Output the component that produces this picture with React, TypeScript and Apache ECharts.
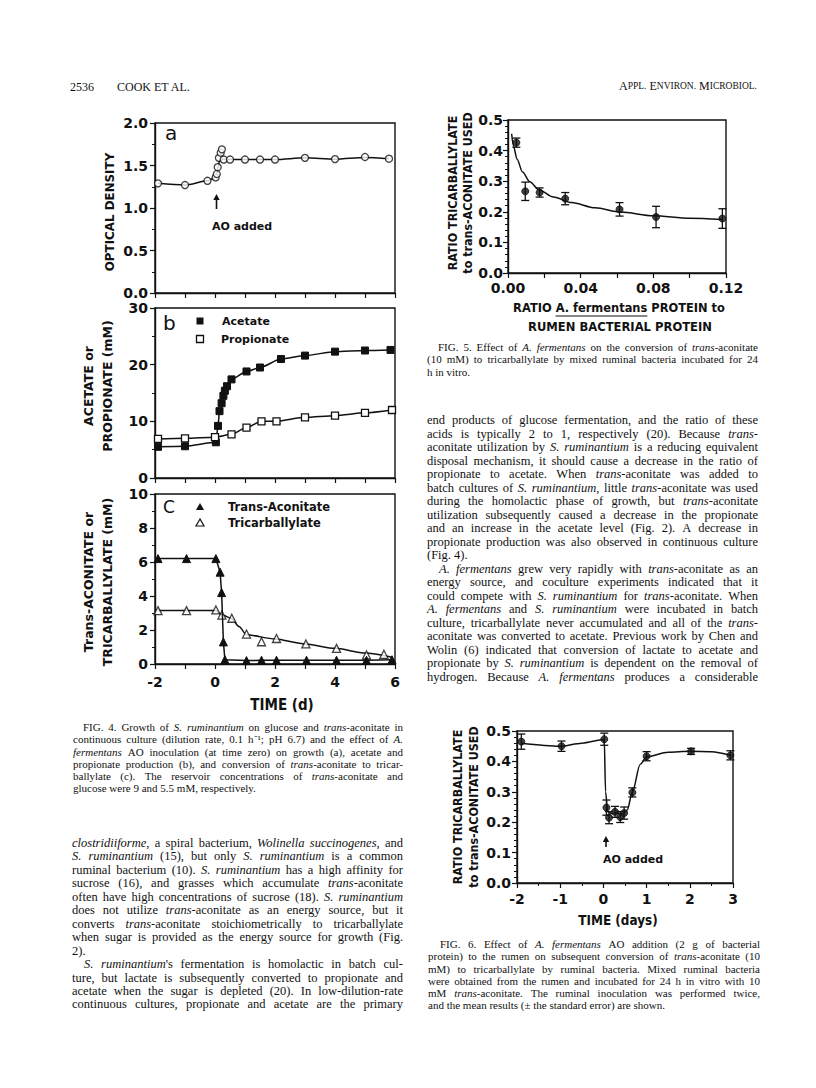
import React, { useEffect, useRef } from 'react';
import * as echarts from 'echarts';

// ---------- Fig. 4a: optical density ----------
const odX = [-1.9, -1.0, -0.25, 0.02, 0.06, 0.09, 0.13, 0.19, 0.23, 0.29, 0.5, 1.0, 1.5, 2.0, 3.0, 4.0, 5.0, 5.8];
const odY = [1.29, 1.27, 1.32, 1.36, 1.4, 1.48, 1.59, 1.65, 1.69, 1.57, 1.57, 1.57, 1.57, 1.57, 1.59, 1.575, 1.6, 1.58];
const odFitX = [-1.9, -1.0, -0.25, 0.0, 0.06, 0.1, 0.15, 0.22, 0.3, 0.5, 1, 1.5, 2, 3, 4, 5, 5.8];
const odFitY = [1.29, 1.27, 1.32, 1.36, 1.4, 1.47, 1.56, 1.575, 1.57, 1.57, 1.57, 1.57, 1.57, 1.59, 1.575, 1.595, 1.58];

// ---------- Fig. 4b: acetate / propionate ----------
const aceX = [-1.9, -1.0, 0.03, 0.1, 0.15, 0.22, 0.28, 0.33, 0.4, 0.55, 1.05, 1.5, 2.2, 3.0, 4.0, 5.0, 5.85];
const aceY = [5.5, 5.6, 6.3, 9.2, 11.8, 13.2, 14.5, 15.4, 16.2, 17.4, 18.8, 19.5, 21.0, 21.6, 22.3, 22.5, 22.6];
const proX = [-1.9, -1.0, 0.0, 0.55, 1.05, 1.55, 2.05, 3.0, 4.0, 5.0, 5.9];
const proY = [6.9, 7.0, 7.2, 7.7, 8.9, 10.0, 10.0, 10.7, 11.0, 11.5, 12.0];

// ---------- Fig. 4c: trans-aconitate / tricarballylate ----------
const taX = [-1.9, -0.95, 0.03, 0.17, 0.22, 0.28, 0.33, 1.05, 1.55, 2.05, 3.05, 4.05, 5.05, 5.9];
const taY = [6.2, 6.2, 6.2, 5.4, 4.2, 1.3, 0.25, 0.2, 0.22, 0.22, 0.22, 0.22, 0.22, 0.25];
const tcX = [-1.9, -0.95, 0.03, 0.23, 0.56, 1.05, 1.55, 2.05, 3.03, 4.05, 5.05, 5.63];
const tcY = [3.14, 3.14, 3.18, 2.88, 2.69, 1.76, 1.31, 1.5, 1.18, 0.92, 0.53, 0.57];
const tcFitX = [-1.9, 0.03, 0.2, 0.55, 0.8, 1.05, 2.0, 3.0, 4.0, 5.0, 5.9];
const tcFitY = [3.15, 3.15, 2.92, 2.68, 2.2, 1.72, 1.47, 1.18, 0.92, 0.64, 0.4];

// ---------- Fig. 5 ----------
const f5X = [0.0046, 0.0095, 0.0174, 0.0315, 0.0614, 0.0815, 0.118];
const f5Y = [0.426, 0.267, 0.263, 0.243, 0.208, 0.183, 0.178];
const f5Err = [0.015, 0.03, 0.015, 0.02, 0.022, 0.035, 0.032];
const f5FitX = [0.002, 0.003, 0.005, 0.008, 0.012, 0.017, 0.025, 0.035, 0.048, 0.062, 0.08, 0.1, 0.118];
const f5FitY = [0.455, 0.415, 0.372, 0.33, 0.298, 0.272, 0.248, 0.23, 0.213, 0.199, 0.187, 0.179, 0.175];

// ---------- Fig. 6 ----------
const f6X = [-1.9, -0.97, 0.02, 0.07, 0.13, 0.27, 0.39, 0.48, 0.67, 1.0, 2.03, 2.94];
const f6Y = [0.465, 0.45, 0.473, 0.248, 0.215, 0.234, 0.217, 0.23, 0.298, 0.417, 0.433, 0.42];
const f6Err = [0.025, 0.017, 0.02, 0.025, 0.02, 0.018, 0.018, 0.02, 0.015, 0.015, 0.01, 0.015];
const f6FitX = [-1.9, -1.0, -0.5, 0.02, 0.05, 0.1, 0.2, 0.3, 0.45, 0.55, 0.67, 0.85, 1.0, 1.5, 2.0, 2.5, 2.94];
const f6FitY = [0.46, 0.45, 0.46, 0.472, 0.3, 0.235, 0.228, 0.23, 0.228, 0.24, 0.298, 0.39, 0.415, 0.43, 0.433, 0.432, 0.42];

// ---------- Page text ('>' = indented first line, '|' = last line, *...* = italic) ----------
const fig4Caption = [
  '>FIG. 4. Growth of *S. ruminantium* on glucose and *trans*-aconitate in',
  'continuous culture (dilution rate, 0.1 h⁻¹; pH 6.7) and the effect of *A.*',
  '*fermentans* AO inoculation (at time zero) on growth (a), acetate and',
  'propionate production (b), and conversion of *trans*-aconitate to tricar-',
  'ballylate (c). The reservoir concentrations of *trans*-aconitate and',
  'glucose were 9 and 5.5 mM, respectively.|',
];
const leftBody = [
  '*clostridiiforme*, a spiral bacterium, *Wolinella succinogenes*, and',
  '*S. ruminantium* (15), but only *S. ruminantium* is a common',
  'ruminal bacterium (10). *S. ruminantium* has a high affinity for',
  'sucrose (16), and grasses which accumulate *trans*-aconitate',
  'often have high concentrations of sucrose (18). *S. ruminantium*',
  'does not utilize *trans*-aconitate as an energy source, but it',
  'converts *trans*-aconitate stoichiometrically to tricarballylate',
  'when sugar is provided as the energy source for growth (Fig.',
  '2).|',
  ">*S. ruminantium*'s fermentation is homolactic in batch cul-",
  'ture, but lactate is subsequently converted to propionate and',
  'acetate when the sugar is depleted (20). In low-dilution-rate',
  'continuous cultures, propionate and acetate are the primary',
];
const fig5Caption = [
  '>FIG. 5. Effect of *A. fermentans* on the conversion of *trans*-aconitate',
  '(10 mM) to tricarballylate by mixed ruminal bacteria incubated for 24',
  'h in vitro.|',
];
const rightBody = [
  'end products of glucose fermentation, and the ratio of these',
  'acids is typically 2 to 1, respectively (20). Because *trans*-',
  'aconitate utilization by *S. ruminantium* is a reducing equivalent',
  'disposal mechanism, it should cause a decrease in the ratio of',
  'propionate to acetate. When *trans*-aconitate was added to',
  'batch cultures of *S. ruminantium*, little *trans*-aconitate was used',
  'during the homolactic phase of growth, but *trans*-aconitate',
  'utilization subsequently caused a decrease in the propionate',
  'and an increase in the acetate level (Fig. 2). A decrease in',
  'propionate production was also observed in continuous culture',
  '(Fig. 4).|',
  '>*A. fermentans* grew very rapidly with *trans*-aconitate as an',
  'energy source, and coculture experiments indicated that it',
  'could compete with *S. ruminantium* for *trans*-aconitate. When',
  '*A. fermentans* and *S. ruminantium* were incubated in batch',
  'culture, tricarballylate never accumulated and all of the *trans*-',
  'aconitate was converted to acetate. Previous work by Chen and',
  'Wolin (6) indicated that conversion of lactate to acetate and',
  'propionate by *S. ruminantium* is dependent on the removal of',
  'hydrogen. Because *A. fermentans* produces a considerable',
];
const fig6Caption = [
  '>FIG. 6. Effect of *A. fermentans* AO addition (2 g of bacterial',
  'protein) to the rumen on subsequent conversion of *trans*-aconitate (10',
  'mM) to tricarballylate by ruminal bacteria. Mixed ruminal bacteria',
  'were obtained from the rumen and incubated for 24 h in vitro with 10',
  'mM *trans*-aconitate. The ruminal inoculation was performed twice,',
  'and the mean results (± the standard error) are shown.|',
];

const INK = '#111';
const SANS = '"DejaVu Sans", Verdana, sans-serif';
const COND = '"DejaVu Sans", Verdana, sans-serif';
const SERIF = '"Liberation Serif", "Times New Roman", serif';

let mctx: CanvasRenderingContext2D | null = null;
function measure(text: string, font: string) {
  if (!mctx) mctx = document.createElement('canvas').getContext('2d');
  mctx!.font = font;
  return mctx!.measureText(text).width;
}
const serifFont = (size: number, it: boolean) => `${it ? 'italic ' : ''}${size}px ${SERIF}`;

type Seg = { t: string; it: boolean };
function parseWords(s: string): Seg[][] {
  const words: Seg[][] = [];
  let cur: Seg[] = [];
  let buf = '';
  let it = false;
  for (const ch of s) {
    if (ch === '*') {
      if (buf) cur.push({ t: buf, it });
      buf = '';
      it = !it;
    } else if (ch === ' ') {
      if (buf) cur.push({ t: buf, it });
      buf = '';
      if (cur.length) words.push(cur);
      cur = [];
    } else buf += ch;
  }
  if (buf) cur.push({ t: buf, it });
  if (cur.length) words.push(cur);
  return words;
}

function textBlock(lines: string[], x0: number, width: number, y0: number, lh: number, size: number, indent: number) {
  const els: any[] = [];
  lines.forEach((raw, li) => {
    let s = raw;
    let ind = 0;
    let just = true;
    if (s.startsWith('>')) { ind = indent; s = s.slice(1); }
    if (s.endsWith('|')) { just = false; s = s.slice(0, -1); }
    const words = parseWords(s);
    const widths = words.map((w) => w.reduce((a, g) => a + measure(g.t, serifFont(size, g.it)), 0));
    const total = widths.reduce((a, b) => a + b, 0);
    const avail = width - ind;
    const space = measure(' ', serifFont(size, false));
    const gap = just && words.length > 1 ? (avail - total) / (words.length - 1) : space;
    let x = x0 + ind;
    const y = y0 + li * lh;
    words.forEach((w, wi) => {
      let cx = x;
      w.forEach((g) => {
        els.push({
          type: 'text', x: cx, y, silent: true,
          style: { text: g.t, fontSize: size, fontFamily: SERIF, fontStyle: g.it ? 'italic' : 'normal', fill: INK, align: 'left', verticalAlign: 'middle' },
        });
        cx += measure(g.t, serifFont(size, g.it));
      });
      x += widths[wi] + gap;
    });
  });
  return els;
}

const txt = (text: string, x: number, y: number, o: any = {}) => ({
  type: 'text', x, y, rotation: o.rotation || 0, scaleX: o.sx || 1, scaleY: 1, silent: true,
  style: {
    text, fill: INK, fontSize: o.size || 12, fontFamily: o.family || COND, fontWeight: o.weight || 'bold',
    fontStyle: o.style || 'normal', align: o.align || 'left', verticalAlign: 'middle',
  },
});

const arrowUp = (x: number, tip: number, bottom: number) => [
  { type: 'line', silent: true, shape: { x1: x, y1: tip + 4, x2: x, y2: bottom }, style: { stroke: INK, lineWidth: 1.6 } },
  { type: 'polygon', silent: true, shape: { points: [[x, tip], [x - 3.2, tip + 6], [x + 3.2, tip + 6]] }, style: { fill: INK } },
];

const pairs = (xs: number[], ys: number[]) => xs.map((x, i) => [x, ys[i]]);

function xAxisCfg(gridIndex: number, min: number, max: number, interval: number, showLabel: boolean, formatter: any, minor = 0, margin = 8) {
  return {
    type: 'value', gridIndex, min, max, interval,
    axisLine: { show: true, onZero: false, lineStyle: { color: INK, width: 1.4 } },
    axisTick: { show: true, length: 5, lineStyle: { color: INK, width: 1.2 } },
    minorTick: { show: minor > 0, splitNumber: minor || 2, length: 3, lineStyle: { color: INK, width: 1 } },
    splitLine: { show: false },
    minorSplitLine: { show: false },
    axisLabel: { show: showLabel, color: INK, fontFamily: SANS, fontSize: 14, fontWeight: 'bold', margin, formatter },
  };
}
function yAxisCfg(gridIndex: number, min: number, max: number, interval: number, formatter: any, minor: number, margin = 7) {
  return {
    type: 'value', gridIndex, min, max, interval,
    axisLine: { show: true, onZero: false, lineStyle: { color: INK, width: 1.4 } },
    axisTick: { show: true, length: 5, lineStyle: { color: INK, width: 1.2 } },
    minorTick: { show: true, splitNumber: minor, length: 3, lineStyle: { color: INK, width: 1 } },
    splitLine: { show: false },
    minorSplitLine: { show: false },
    axisLabel: { color: INK, fontFamily: SANS, fontSize: 14, fontWeight: 'bold', margin, formatter },
  };
}

const errRender = (params: any, api: any) => {
  const x = api.value(0);
  const a = api.coord([x, api.value(1)]);
  const b = api.coord([x, api.value(2)]);
  const w = 4;
  const st = { stroke: INK, lineWidth: 1.3 };
  return {
    type: 'group',
    children: [
      { type: 'line', shape: { x1: a[0], y1: a[1], x2: b[0], y2: b[1] }, style: st },
      { type: 'line', shape: { x1: a[0] - w, y1: a[1], x2: a[0] + w, y2: a[1] }, style: st },
      { type: 'line', shape: { x1: b[0] - w, y1: b[1], x2: b[0] + w, y2: b[1] }, style: st },
    ],
  };
};

function buildOption() {
  const gridBase = { show: true, borderColor: INK, borderWidth: 1.4, backgroundColor: 'transparent', containLabel: false, outerBoundsMode: 'none' };
  const grids = [
    { ...gridBase, left: 155, top: 123, width: 240, height: 170 },
    { ...gridBase, left: 155, top: 308, width: 240, height: 170 },
    { ...gridBase, left: 155, top: 494, width: 240, height: 170 },
    { ...gridBase, left: 508, top: 120, width: 218, height: 153 },
    { ...gridBase, left: 517, top: 731, width: 216, height: 152 },
  ];
  const evenFmt = (v: number) => (Math.round(v) % 2 === 0 ? String(Math.round(v)) : '');
  const f5Fmt = (v: number) => {
    const k = Math.round(v / 0.02);
    return k % 2 === 0 ? (k * 0.02).toFixed(2) : '';
  };
  const fix1 = (v: number) => v.toFixed(1);
  const xAxes = [
    xAxisCfg(0, -2, 6, 1, false, null),
    xAxisCfg(1, -2, 6, 1, false, null),
    xAxisCfg(2, -2, 6, 1, true, evenFmt, 0, 11),
    xAxisCfg(3, 0, 0.12, 0.02, true, f5Fmt, 0, 8),
    xAxisCfg(4, -2, 3, 1, true, (v: number) => String(Math.round(v)), 2, 9),
  ];
  const yAxes = [
    yAxisCfg(0, 0, 2, 0.5, fix1, 2),
    yAxisCfg(1, 0, 30, 10, (v: number) => String(v), 2),
    yAxisCfg(2, 0, 10, 2, (v: number) => String(v), 2),
    yAxisCfg(3, 0, 0.5, 0.1, fix1, 5, 5),
    yAxisCfg(4, 0, 0.5, 0.1, fix1, 5, 6),
  ];
  const lineStyle = { color: INK, width: 1.5 };
  const openItem = { color: '#fff', borderColor: INK, borderWidth: 1.3 };
  const fillItem = { color: INK, borderColor: INK, borderWidth: 1 };
  const series: any[] = [
    // 4a
    { type: 'line', xAxisIndex: 0, yAxisIndex: 0, data: pairs(odFitX, odFitY), showSymbol: false, symbol: 'none', smooth: 0.3, smoothMonotone: 'x', lineStyle, z: 2 },
    { type: 'scatter', xAxisIndex: 0, yAxisIndex: 0, data: pairs(odX, odY), symbol: 'circle', symbolSize: 7, itemStyle: openItem, z: 3 },
    // 4b
    { type: 'line', xAxisIndex: 1, yAxisIndex: 1, data: pairs(aceX, aceY), symbol: 'rect', symbolSize: 7, smooth: 0.25, smoothMonotone: 'x', itemStyle: fillItem, lineStyle, z: 3 },
    { type: 'line', xAxisIndex: 1, yAxisIndex: 1, data: pairs(proX, proY), symbol: 'rect', symbolSize: 7, smooth: 0.25, smoothMonotone: 'x', itemStyle: openItem, lineStyle, z: 3 },
    // 4c
    { type: 'line', xAxisIndex: 2, yAxisIndex: 2, data: pairs(tcFitX, tcFitY), symbol: 'none', showSymbol: false, smooth: 0.25, smoothMonotone: 'x', lineStyle, z: 2 },
    { type: 'scatter', xAxisIndex: 2, yAxisIndex: 2, data: pairs(tcX, tcY), symbol: 'triangle', symbolSize: 8, itemStyle: openItem, z: 3 },
    { type: 'line', xAxisIndex: 2, yAxisIndex: 2, data: pairs(taX, taY), symbol: 'triangle', symbolSize: 8, itemStyle: fillItem, lineStyle, z: 4 },
    // Fig 5
    { type: 'line', xAxisIndex: 3, yAxisIndex: 3, data: pairs(f5FitX, f5FitY), symbol: 'none', showSymbol: false, smooth: 0.3, smoothMonotone: 'x', lineStyle, z: 2 },
    { type: 'custom', xAxisIndex: 3, yAxisIndex: 3, data: f5X.map((x, i) => [x, f5Y[i] - f5Err[i], f5Y[i] + f5Err[i]]), renderItem: errRender, encode: { x: 0, y: [1, 2] }, z: 3 },
    { type: 'scatter', xAxisIndex: 3, yAxisIndex: 3, data: pairs(f5X, f5Y), symbol: 'circle', symbolSize: 7, itemStyle: fillItem, z: 4 },
    // Fig 6
    { type: 'line', xAxisIndex: 4, yAxisIndex: 4, data: pairs(f6FitX, f6FitY), symbol: 'none', showSymbol: false, smooth: 0.3, smoothMonotone: 'x', lineStyle, z: 2 },
    { type: 'custom', xAxisIndex: 4, yAxisIndex: 4, data: f6X.map((x, i) => [x, f6Y[i] - f6Err[i], f6Y[i] + f6Err[i]]), renderItem: errRender, encode: { x: 0, y: [1, 2] }, z: 3 },
    { type: 'scatter', xAxisIndex: 4, yAxisIndex: 4, data: pairs(f6X, f6Y), symbol: 'circle', symbolSize: 7, itemStyle: fillItem, z: 4 },
  ];

  // Fig 5 x-title with underlined "A. fermentans"
  const tSx = 0.88;
  const titleFont = `bold 13px ${COND}`;
  const t5a = 'RATIO A. fermentans PROTEIN to';
  const fullW = measure(t5a, titleFont);
  const preW = measure('RATIO ', titleFont);
  const partW = measure('A. fermentans', titleFont);
  const ux0 = 619 - (fullW / 2 - preW) * tSx;

  const els: any[] = [
    // header
    txt('2536', 70, 87, { family: SERIF, weight: 'normal', size: 12 }),
    txt('COOK ET AL.', 117, 87, { family: SERIF, weight: 'normal', size: 12 }),
    {
      type: 'text', x: 757, y: 86, silent: true,
      style: {
        text: '{b|A}{s|PPL.} {b|E}{s|NVIRON.} {b|M}{s|ICROBIOL.}', align: 'right', verticalAlign: 'middle',
        fontSize: 12, fontFamily: SERIF, fill: INK,
        rich: { b: { fontSize: 12, fontFamily: SERIF, fill: INK }, s: { fontSize: 9.5, fontFamily: SERIF, fill: INK } },
      },
    },
    // Fig 4a
    txt('a', 165, 133, { family: SANS, weight: 'normal', size: 20 }),
    ...arrowUp(216.5, 194, 209),
    txt('AO added', 212, 226, { size: 11 }),
    txt('OPTICAL DENSITY', 110, 212, { size: 12.5, rotation: Math.PI / 2, align: 'center', sx: 0.95 }),
    // Fig 4b
    txt('b', 163, 323, { family: SANS, weight: 'normal', size: 20 }),
    { type: 'rect', silent: true, shape: { x: 196.5, y: 317.5, width: 7, height: 7 }, style: { fill: INK } },
    { type: 'rect', silent: true, shape: { x: 196.5, y: 335.5, width: 7, height: 7 }, style: { fill: '#fff', stroke: INK, lineWidth: 1.3 } },
    txt('Acetate', 222, 321, { size: 11 }),
    txt('Propionate', 221, 339, { size: 11 }),
    txt('ACETATE or', 88, 386, { size: 12.5, rotation: Math.PI / 2, align: 'center' }),
    txt('PROPIONATE (mM)', 107, 386, { size: 12.5, rotation: Math.PI / 2, align: 'center' }),
    // Fig 4c
    txt('C', 163, 507, { family: SANS, weight: 'normal', size: 17 }),
    { type: 'polygon', silent: true, shape: { points: [[200, 503], [196, 510], [204, 510]] }, style: { fill: INK } },
    { type: 'polygon', silent: true, shape: { points: [[200, 519], [196, 526], [204, 526]] }, style: { fill: '#fff', stroke: INK, lineWidth: 1.2 } },
    txt('Trans-Aconitate', 228, 507, { size: 11.5 }),
    txt('Tricarballylate', 228, 523, { size: 11.5 }),
    txt('Trans-ACONITATE or', 88, 582, { size: 12.5, rotation: Math.PI / 2, align: 'center' }),
    txt('TRICARBALLYLATE (mM)', 107, 582, { size: 12.5, rotation: Math.PI / 2, align: 'center' }),
    txt('TIME (d)', 282, 705, { size: 15, align: 'center', sx: 0.9 }),
    // Fig 5
    txt('RATIO TRICARBALLYLATE', 453, 193, { size: 12.5, rotation: Math.PI / 2, align: 'center', sx: 0.89 }),
    txt('to trans-ACONITATE USED', 468, 193, { size: 12.5, rotation: Math.PI / 2, align: 'center', sx: 0.89 }),
    txt(t5a, 619, 308, { size: 13, align: 'center', sx: tSx }),
    { type: 'line', silent: true, shape: { x1: ux0, y1: 316, x2: ux0 + partW * tSx, y2: 316 }, style: { stroke: INK, lineWidth: 1.2 } },
    txt('RUMEN BACTERIAL PROTEIN', 620, 327, { size: 13, align: 'center', sx: 0.89 }),
    // Fig 6
    txt('RATIO TRICARBALLYLATE', 458, 807, { size: 12.5, rotation: Math.PI / 2, align: 'center', sx: 0.89 }),
    txt('to trans-ACONITATE USED', 474, 807, { size: 12.5, rotation: Math.PI / 2, align: 'center', sx: 0.89 }),
    ...arrowUp(606, 836, 847),
    txt('AO added', 603, 859, { size: 11 }),
    txt('TIME (days)', 618, 920, { size: 14, align: 'center', sx: 0.86 }),
    // page text
    ...textBlock(fig4Caption, 73, 330, 727, 12.25, 11, 10),
    ...textBlock(leftBody, 72, 331, 843, 13.45, 12.5, 12),
    ...textBlock(fig5Caption, 427, 331, 346.7, 12.5, 11, 11),
    ...textBlock(rightBody, 427, 331, 420, 13.5, 12.5, 12),
    ...textBlock(fig6Caption, 428, 332, 944.3, 12.15, 11, 12),
  ];

  return {
    animation: false,
    backgroundColor: '#fff',
    grid: grids,
    xAxis: xAxes,
    yAxis: yAxes,
    series,
    graphic: els,
  };
}

export default function App() {
  const ref = useRef<HTMLDivElement>(null);
  useEffect(() => {
    if (!ref.current) return;
    const chart = echarts.init(ref.current, null, { renderer: 'svg' });
    chart.setOption(buildOption() as any);
    return () => chart.dispose();
  }, []);
  return <div ref={ref} style={{ position: 'absolute', left: 0, top: 0, width: 816, height: 1088, background: '#fff' }} />;
}
